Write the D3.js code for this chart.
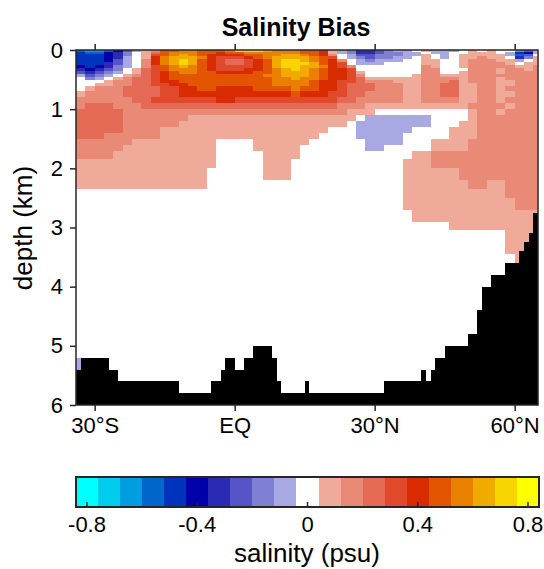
<!DOCTYPE html>
<html>
<head>
<meta charset="utf-8">
<script src="https://cdn.jsdelivr.net/npm/d3@7"></script>
<style>
  body { margin: 0; background: #fff; }
  svg { display: block; }
  text { font-family: "Liberation Sans", Arial, Helvetica, sans-serif; fill: #000; }
</style>
</head>
<body>
<svg id="chart" width="544" height="569"></svg>
<script>
// ---- grid of the section (latitude column edges, depth level edges in km) ----
const latEdges = [-34,-32,-30,-28,-26,-24,-22,-20,-18,-16,-14,-12,-10,-8,-6,-4,-2,0,2,4,6,8,10,12,14,16,18,20,22,24,26,28,30,32,34,36,38,40,42,44,46,48,50,52,54,56,58,60,62,64,66];
const depthEdges = [0,0.03,0.06,0.1,0.15,0.2,0.25,0.3,0.35,0.4,0.45,0.5,0.55,0.6,0.7,0.8,0.9,1.0,1.1,1.2,1.3,1.4,1.5,1.6,1.7,1.85,2.0,2.2,2.35,2.5,2.7,2.9,3.05,3.25,3.45,3.6,5.2,5.4,6.0];

// ---- salinity bias (psu), one row per depth level, one value per latitude column ----
const salinityBias = [
 [-.55,-.65,-.65,-.55,-.4,-.25,-.1,.1,.15,.5, .5,.55,.55,.5,.5,.5,.55,.7,.7,.7, .65,.55,.55,.55,.5,.5,.4,.1,-.1,-.15, -.3,-.3,-.25,-.15,-.1,-.1,0,.1,-.1,-.1, -.1,0,.1,0,.1,0,0,-.15,-.25,-.1],
 [-.5,-.55,-.55,-.4,-.3,-.15,0,.1,.25,.5, .55,.55,.55,.5,.5,.4,.5,.5,.55,.55, .55,.55,.55,.55,.5,.5,.4,.1,-.1,-.15, -.3,-.3,-.25,-.15,-.15,-.1,-.1,0,-.1,-.1, 0,0,.1,.1,.1,0,-.1,-.5,-.4,-.1],
 [-.5,-.5,-.5,-.4,-.3,-.15,0,.1,.3,.5, .55,.65,.55,.5,.4,.4,.4,.4,.5,.5, .55,.55,.65,.65,.55,.5,.4,.15,0,-.1, -.25,-.25,-.15,-.15,-.15,-.1,-.1,.1,0,-.1, 0,.1,.1,.1,.1,.1,-.1,-.55,-.25,0],
 [-.5,-.5,-.5,-.4,-.3,-.1,0,.1,.4,.55, .65,.65,.65,.55,.4,.3,.3,.3,.4,.5, .55,.65,.65,.65,.65,.55,.5,.3,0,-.1, -.15,-.25,-.15,-.15,-.1,-.1,0,.1,0,-.1, 0,.1,.1,.15,.1,.1,0,-.3,-.15,.1],
 [-.5,-.5,-.5,-.4,-.25,-.1,0,.15,.4,.55, .65,.7,.65,.5,.4,.3,.25,.25,.3,.4, .5,.65,.7,.7,.65,.55,.5,.4,.15,0, -.1,-.15,-.1,-.1,-.1,0,0,.1,.1,0, 0,.1,.15,.15,.15,.1,.1,-.1,0,.1],
 [-.5,-.5,-.5,-.3,-.25,-.1,0,.15,.4,.55, .65,.7,.65,.5,.4,.3,.25,.25,.3,.4, .5,.65,.7,.7,.7,.65,.5,.4,.3,0, -.1,-.1,-.1,0,0,0,0,.1,.1,0, 0,.1,.15,.15,.15,.15,.1,0,.1,.1],
 [-.4,-.5,-.4,-.3,-.15,-.1,0,.15,.3,.5, .55,.65,.55,.5,.4,.3,.3,.3,.3,.4, .5,.65,.7,.7,.65,.65,.55,.4,.3,.15, 0,0,0,0,0,0,0,.15,.1,0, 0,.1,.15,.15,.15,.15,.15,.1,.1,.15],
 [-.3,-.4,-.3,-.25,-.15,0,.1,.25,.3,.5, .55,.55,.55,.5,.4,.3,.3,.3,.4,.4, .5,.55,.65,.7,.65,.55,.5,.4,.4,.3, 0,0,0,0,0,0,0,.15,.15,0, 0,0,.15,.15,.15,.1,.15,.15,.1,.15],
 [-.25,-.3,-.25,-.15,-.1,0,.1,.25,.3,.4, .5,.55,.55,.5,.5,.4,.4,.4,.4,.5, .5,.55,.65,.65,.65,.55,.5,.4,.4,.3, .1,0,0,0,0,0,0,.15,.15,0, 0,.1,.15,.15,.15,.1,.15,.15,.15,.15],
 [-.1,-.25,-.15,-.1,0,.1,.15,.25,.3,.4, .5,.5,.5,.5,.5,.5,.5,.5,.5,.5, .55,.55,.65,.65,.65,.55,.5,.4,.4,.3, .15,0,0,0,0,0,.1,.15,.15,.1, .1,.1,.15,.15,.15,.15,.15,.15,.15,.15],
 [0,-.15,-.1,0,.1,.15,.25,.25,.3,.4, .5,.5,.5,.5,.5,.5,.5,.5,.5,.5, .5,.55,.55,.65,.55,.55,.5,.4,.4,.3, .25,.1,.1,.1,.1,.1,.1,.15,.15,.15, .15,.1,.15,.15,.15,.1,.15,.15,.15,.15],
 [0,0,0,.1,.15,.15,.25,.25,.3,.4, .4,.5,.5,.5,.5,.5,.5,.5,.5,.5, .5,.55,.55,.55,.55,.5,.4,.4,.3,.3, .25,.15,.15,.15,.1,.1,.1,.15,.15,.15, .25,.1,.15,.15,.15,.1,.1,.15,.15,.15],
 [0,0,.1,.1,.15,.15,.25,.25,.3,.3, .4,.4,.5,.5,.5,.5,.5,.5,.5,.5, .5,.55,.55,.55,.55,.5,.4,.4,.3,.25, .25,.25,.15,.15,.15,.1,.1,.15,.15,.25, .25,.1,.1,.15,.15,.1,.1,.15,.15,.15],
 [0,.1,.15,.15,.15,.25,.25,.25,.25,.3, .3,.4,.4,.5,.5,.4,.4,.4,.4,.5, .5,.5,.5,.55,.5,.5,.4,.4,.3,.25, .25,.25,.15,.15,.15,.1,.1,.15,.15,.25, .25,.1,.1,.15,.15,.1,.15,.15,.15,.15],
 [.1,.15,.15,.15,.15,.25,.25,.25,.25,.3, .3,.4,.4,.4,.4,.4,.4,.4,.4,.4, .4,.4,.4,.5,.4,.4,.4,.3,.3,.25, .25,.15,.15,.15,.15,.1,.1,.15,.15,.25, .25,.1,.1,.15,.15,.1,.1,.15,.15,.15],
 [.15,.15,.15,.15,.15,.15,.25,.25,.3,.3, .3,.3,.3,.3,.3,.4,.4,.3,.3,.3, .3,.3,.3,.3,.3,.3,.3,.3,.25,.25, .15,.15,.15,.15,.15,.1,.1,.15,.15,.15, .15,.1,.1,.15,.15,.1,.15,.15,.15,.15],
 [.15,.25,.25,.25,.15,.15,.15,.25,.25,.25, .25,.25,.25,.25,.25,.25,.25,.25,.25,.25, .25,.25,.25,.25,.25,.25,.25,.25,.15,.15, .15,.1,.1,.1,.1,.1,.1,.1,.1,.1, .1,.1,.15,.15,.15,.15,.1,.15,.15,.15],
 [.25,.25,.25,.25,.25,.15,.15,.15,.15,.15, .15,.15,.15,.15,.15,.15,.15,.15,.15,.15, .15,.15,.15,.15,.15,.15,.15,.15,.15,.1, .1,.1,0,0,0,0,0,0,0,0, 0,0,.1,.15,.15,.1,.15,.15,.15,.15],
 [.25,.25,.25,.25,.25,.15,.15,.15,.15,.15, .15,.15,.1,.1,.1,.1,.1,.1,.1,.1, .1,.1,.1,.1,.1,.1,.1,.1,.1,.1, 0,-.1,-.1,-.1,-.1,-.1,-.1,-.1,0,0, 0,0,.1,.15,.15,.15,.15,.15,.15,.15],
 [.25,.25,.25,.25,.25,.15,.15,.15,.15,.15, .15,.1,.1,.1,.1,.1,.1,.1,.1,.1, .1,.1,.1,.1,.1,.1,.1,.1,.1,0, -.1,-.1,-.1,-.1,-.1,-.1,-.1,-.1,0,0, 0,.1,.1,.15,.15,.15,.15,.15,.15,.15],
 [.25,.25,.25,.25,.25,.15,.15,.15,.15,.1, .1,.1,.1,.1,.1,.1,.1,.1,.1,.1, .1,.1,.1,.1,.1,.1,.1,0,0,0, -.1,-.1,-.1,-.1,-.1,-.1,0,0,0,0, .1,.1,.1,.15,.15,.15,.15,.15,.15,.15],
 [.25,.25,.25,.15,.15,.15,.15,.15,.15,.1, .1,.1,.1,.1,.1,.1,.1,.1,.1,.1, .1,.1,.1,.1,.1,.1,0,0,0,0, -.1,-.1,-.1,-.1,-.1,0,0,0,0,0, .1,.1,.1,.15,.15,.15,.15,.15,.15,.15],
 [.15,.15,.15,.15,.15,.15,.1,.1,.1,.1, .1,.1,.1,.1,.1,0,0,0,0,.1, .1,.1,.1,.1,.1,0,0,0,0,0, 0,-.1,-.1,-.1,-.1,0,0,0,.1,.1, .1,.1,.15,.15,.15,.15,.15,.15,.15,.15],
 [.15,.15,.15,.15,.15,.1,.1,.1,.1,.1, .1,.1,.1,.1,.1,0,0,0,0,.1, .1,.1,.1,.1,0,0,0,0,0,0, 0,-.1,-.1,0,0,0,0,0,.1,.1, .1,.1,.15,.15,.15,.15,.15,.15,.15,.15],
 [.15,.15,.15,.15,.1,.1,.1,.1,.1,.1, .1,.1,.1,.1,.1,0,0,0,0,0, .1,.1,.1,.1,0,0,0,0,0,0, 0,0,0,0,0,0,.1,.1,.15,.15, .15,.15,.15,.15,.15,.15,.15,.15,.15,.15],
 [.1,.1,.1,.1,.1,.1,.1,.1,.1,.1, .1,.1,.1,.1,.1,0,0,0,0,0, .1,.1,.1,0,0,0,0,0,0,0, 0,0,0,0,0,.1,.1,.1,.15,.15, .15,.15,.15,.15,.15,.15,.15,.15,.15,.15],
 [.1,.1,.1,.1,.1,.1,.1,.1,.1,.1, .1,.1,.1,.1,0,0,0,0,0,0, .1,.1,.1,0,0,0,0,0,0,0, 0,0,0,0,0,.1,.1,.1,.1,.1, .1,.15,.15,.15,.15,.15,.15,.15,.15,.15],
 [.1,.1,.1,.1,.1,.1,.1,.1,.1,.1, .1,.1,.1,.1,0,0,0,0,0,0, 0,0,0,0,0,0,0,0,0,0, 0,0,0,0,0,.1,.1,.1,.1,.1, .1,.1,.15,.15,.1,.1,.15,.15,.15,.15],
 [0,0,0,0,0,0,0,0,0,0, 0,0,0,0,0,0,0,0,0,0, 0,0,0,0,0,0,0,0,0,0, 0,0,0,0,0,.1,.1,.1,.1,.1, .1,.1,.1,.1,.1,.1,.15,.15,.15,.15],
 [0,0,0,0,0,0,0,0,0,0, 0,0,0,0,0,0,0,0,0,0, 0,0,0,0,0,0,0,0,0,0, 0,0,0,0,0,.1,.1,.1,.1,.1, .1,.1,.1,.1,.1,.1,.1,.15,.15,.15],
 [0,0,0,0,0,0,0,0,0,0, 0,0,0,0,0,0,0,0,0,0, 0,0,0,0,0,0,0,0,0,0, 0,0,0,0,0,0,.1,.1,.1,.1, .1,.1,.1,.1,.1,.1,.1,.1,.1,.1],
 [0,0,0,0,0,0,0,0,0,0, 0,0,0,0,0,0,0,0,0,0, 0,0,0,0,0,0,0,0,0,0, 0,0,0,0,0,0,0,0,0,0, .1,.1,.1,.1,.1,.1,.1,.1,.1,.1],
 [0,0,0,0,0,0,0,0,0,0, 0,0,0,0,0,0,0,0,0,0, 0,0,0,0,0,0,0,0,0,0, 0,0,0,0,0,0,0,0,0,0, 0,0,0,0,0,0,.1,.1,.1,.1],
 [0,0,0,0,0,0,0,0,0,0, 0,0,0,0,0,0,0,0,0,0, 0,0,0,0,0,0,0,0,0,0, 0,0,0,0,0,0,0,0,0,0, 0,0,0,0,0,0,.1,.1,.1,.1],
 [0,0,0,0,0,0,0,0,0,0, 0,0,0,0,0,0,0,0,0,0, 0,0,0,0,0,0,0,0,0,0, 0,0,0,0,0,0,0,0,0,0, 0,0,0,0,0,0,0,.1,.1,.1],
 [0,0,0,0,0,0,0,0,0,0, 0,0,0,0,0,0,0,0,0,0, 0,0,0,0,0,0,0,0,0,0, 0,0,0,0,0,0,0,0,0,0, 0,0,0,0,0,0,0,0,0,0],
 [-.1,0,0,0,0,0,0,0,0,0, 0,0,0,0,0,0,0,0,0,0, 0,0,0,0,0,0,0,0,0,0, 0,0,0,0,0,0,0,0,0,0, 0,0,0,0,0,0,0,0,0,0],
 [0,0,0,0,0,0,0,0,0,0, 0,0,0,0,0,0,0,0,0,0, 0,0,0,0,0,0,0,0,0,0, 0,0,0,0,0,0,0,0,0,0, 0,0,0,0,0,0,0,0,0,0]
];

// ---- sea floor: depth (km) of the bottom for each 1-degree band starting at bottomLat ----
const bottomLat = [-34,-33,-32,-31,-30,-29,-28,-27,-26,-25,-24,-23,-22,-21,-20,-19,-18,-17,-16,-15,-14,-13,-12,-11,-10,-9,-8,-7,-6,-5,-4,-3,-2,-1,0,1,2,3,4,5,6,7,8,9,10,11,12,13,14,15,16,17,18,19,20,21,22,23,24,25,26,27,28,29,30,31,32,33,34,35,36,37,38,39,40,41,42,43,44,45,46,47,48,49,50,51,52,53,54,55,56,57,58,59,60,61,62,63,64];
const bottomDepth = [5.4, 5.2,5.2,5.2,5.2,5.2,5.2, 5.4,5.4,
  5.6,5.6,5.6,5.6,5.6,5.6,5.6,5.6,5.6,5.6,5.6,5.6,5.6,
  5.8,5.8,5.8,5.8,5.8,5.8,5.8, 5.6,5.6, 5.4, 5.2,5.2, 5.4,5.4, 5.2,5.2,
  5.0,5.0,5.0,5.0, 5.2, 5.6, 5.8,5.8,5.8,5.8,5.8, 5.6,
  5.8,5.8,5.8,5.8,5.8,5.8,5.8,5.8,5.8,5.8,5.8,5.8,5.8,5.8,5.8,5.8,
  5.6,5.6,5.6,5.6,5.6,5.6,5.6,5.6, 5.4, 5.6, 5.4, 5.2,5.2,
  5.0,5.0,5.0,5.0,5.0, 4.8,4.8, 4.4, 4.0,4.0, 3.8,3.8,3.8, 3.6,3.6,3.6, 3.4, 3.25, 3.1, 2.75];
const latMax = 65;

// ---- axes and colour key ----
const depthTicks = [0,1,2,3,4,5,6];
const latTicks = [-30,0,30,60];
const latTickLabels = ["30°S","EQ","30°N","60°N"];
const colorTicks = [-0.8,-0.4,0,0.4,0.8];
const colorTickLabels = ["-0.8","-0.4","0","0.4","0.8"];
const colorMin = -0.84, colorStep = 0.08;
const binColors = ["#00ffff","#00ccee","#009ee0","#0066cc","#0033bb","#0000aa","#2a2ab4","#5555c8","#7f7fd4","#a8a8e2",
                   "#ffffff",
                   "#f0aa99","#e98a77","#e46a55","#e04a2a","#d92b00","#e35500","#ea7f00","#f1aa00","#f8d400","#ffff00"];

const svg = d3.select("#chart");
const axisColor = "#262626";

const x = d3.scaleLinear().domain([-34, latMax]).range([76, 538]);
const y = d3.scaleLinear().domain([0, 6]).range([50, 405]);
const color = d3.scaleThreshold()
  .domain(binColors.slice(1).map((_, i) => colorMin + colorStep * (i + 1)))
  .range(binColors);

svg.append("defs").append("clipPath").attr("id", "plot-clip")
  .append("rect").attr("x", 76).attr("y", 50).attr("width", 462).attr("height", 355);

const plot = svg.append("g").attr("clip-path", "url(#plot-clip)");

// field cells
const cells = [];
salinityBias.forEach((row, r) => row.forEach((v, c) => cells.push({r, c, v})));
plot.append("g").attr("shape-rendering", "crispEdges")
  .selectAll("rect").data(cells).join("rect")
  .attr("x", d => x(latEdges[d.c]))
  .attr("y", d => y(depthEdges[d.r]))
  .attr("width", d => x(latEdges[d.c + 1]) - x(latEdges[d.c]) + 0.3)
  .attr("height", d => y(depthEdges[d.r + 1]) - y(depthEdges[d.r]) + 0.3)
  .attr("fill", d => color(d.v));

// sea floor
const floorPts = bottomLat.map((lat, i) => [lat, bottomDepth[i]]);
floorPts.push([latMax, bottomDepth[bottomDepth.length - 1]]);
plot.append("path")
  .datum(floorPts)
  .attr("fill", "#000")
  .attr("shape-rendering", "crispEdges")
  .attr("d", d3.area().curve(d3.curveStepAfter)
    .x(d => x(d[0])).y0(y(6)).y1(d => y(d[1])));

// axes
function styleAxis(g) {
  g.selectAll(".domain").remove();
  g.selectAll(".tick line").attr("stroke", axisColor).attr("stroke-width", 1.5);
  g.selectAll(".tick text").style("font-family", '"Liberation Sans", Arial, sans-serif')
    .style("font-size", "22px").attr("fill", "#000");
}
svg.append("g").attr("transform", "translate(76,0)")
  .call(d3.axisLeft(y).tickValues(depthTicks).tickSize(6).tickPadding(7).tickFormat(d3.format("d")))
  .call(styleAxis);
svg.append("g").attr("transform", "translate(0,405)")
  .call(d3.axisBottom(x).tickValues(latTicks).tickSize(6).tickPadding(6)
    .tickFormat((d, i) => latTickLabels[i]))
  .call(styleAxis);
svg.append("g").attr("transform", "translate(0,50)")
  .call(d3.axisTop(x).tickValues(latTicks).tickSize(6).tickFormat(""))
  .call(styleAxis);

svg.append("rect").attr("x", 76).attr("y", 50).attr("width", 462).attr("height", 355)
  .attr("fill", "none").attr("stroke", axisColor).attr("stroke-width", 1.5);

// titles
svg.append("text").attr("x", 296).attr("y", 36).attr("text-anchor", "middle")
  .style("font-size", "25px").style("font-weight", "bold").text("Salinity Bias");
svg.append("text").attr("transform", "translate(32,228) rotate(-90)").attr("text-anchor", "middle")
  .style("font-size", "26px").text("depth (km)");

// colour key
const cx = d3.scaleLinear().domain([colorMin, -colorMin]).range([76, 539]);
const key = svg.append("g");
key.append("g").attr("shape-rendering", "crispEdges")
  .selectAll("rect").data(binColors).join("rect")
  .attr("x", (d, i) => cx(colorMin + colorStep * i))
  .attr("width", (d, i) => cx(colorMin + colorStep * (i + 1)) - cx(colorMin + colorStep * i) + 0.3)
  .attr("y", 477).attr("height", 30)
  .attr("fill", d => d);
key.selectAll("line.t").data(colorTicks).join("line")
  .attr("x1", d => cx(d)).attr("x2", d => cx(d))
  .attr("y1", 507).attr("y2", 502)
  .attr("stroke", axisColor).attr("stroke-width", 1.5);
key.append("rect").attr("x", 76).attr("y", 477).attr("width", 463).attr("height", 30)
  .attr("fill", "none").attr("stroke", axisColor).attr("stroke-width", 2);
key.selectAll("text.t").data(colorTicks).join("text")
  .attr("x", d => cx(d)).attr("y", 532).attr("text-anchor", "middle")
  .style("font-size", "22px")
  .text((d, i) => colorTickLabels[i]);
key.append("text").attr("x", 307).attr("y", 562).attr("text-anchor", "middle")
  .style("font-size", "26px").text("salinity (psu)");
</script>
</body>
</html>
